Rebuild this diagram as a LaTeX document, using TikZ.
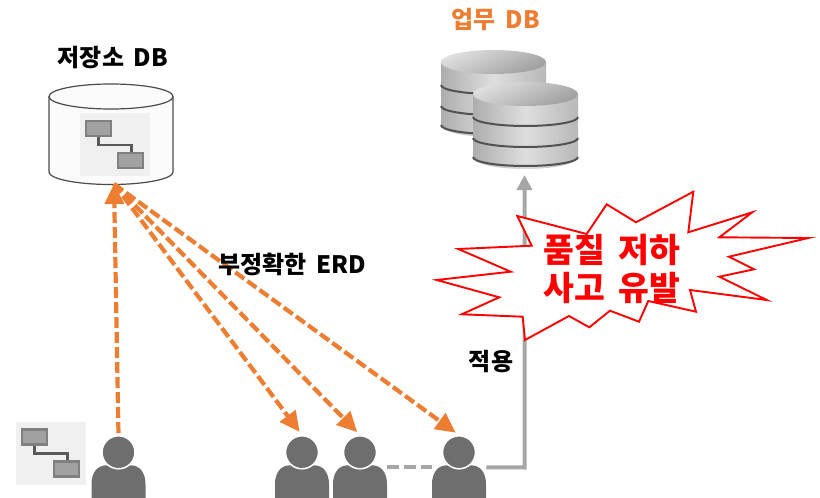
\documentclass[tikz,border=0pt]{standalone}
\usepackage{fontspec}
\setmainfont[WordSpace=1.8]{Noto Sans CJK KR}
\usetikzlibrary{arrows.meta}
\definecolor{dashorange}{HTML}{ED7D31}
\definecolor{usergray}{HTML}{6E6E6E}
\definecolor{linegray}{HTML}{A6A6A6}
\tikzset{
  labeltext/.style={font=\bfseries\fontsize{24}{28}\selectfont, text=black, inner sep=0pt},
  bursttext/.style={font=\bfseries\fontsize{33.5}{38}\selectfont, text=red, align=center, inner sep=0pt},
  userhead/.style={circle, fill=usergray, draw=white, line width=1.5pt, minimum size=33pt, inner sep=0pt},
  erdline/.style={dashorange, line width=4.2pt, dash pattern=on 11pt off 4pt, shorten >=4pt, -{Triangle[length=20pt,width=19pt]}},
  applyline/.style={linegray, line width=4pt},
  pics/erdicon/.style={code={
    \fill[black!6] (-6,-8) rectangle (64,55);
    \draw[black!65, line width=2.6pt] (12.5,8) |- (45.5,24) -- (45.5,40);
    \foreach \bx/\by in {0/0, 32/32}
      \draw[fill=black!37, draw=black!50, line width=2.4pt] (\bx,\by) rectangle ++(25,15);
  }},
  pics/userfigure/.style={code={
    \fill[usergray] (-27,46) -- (-27,32) .. controls (-27,20) and (-21,13) .. (-12,13)
      -- (12,13) .. controls (21,13) and (27,20) .. (27,32) -- (27,46) -- cycle;
  }},
  pics/dbstack/.style={code={
    \shade[left color=black!32, right color=black!28, middle color=black!13] (-52.5,0) -- (-52.5,63)
      arc[start angle=180, end angle=0, x radius=52.5, y radius=12] -- (52.5,0) -- cycle;
    \foreach \dy in {23,44,63}
      \draw[black!68, line width=2pt] (-52.5,\dy) arc[start angle=180, end angle=0, x radius=52.5, y radius=9];
    \shade[left color=black!12, right color=black!38, shading angle=25] (0,0) ellipse[x radius=52.5, y radius=12];
  }}
}
\begin{document}
\begin{tikzpicture}[x=1pt,y=-1pt]
\useasboundingbox (0,0) rectangle (820,498);
\clip (0,0) rectangle (820,498);
% storage cylinder
\draw[fill=black!1.5, draw=black!70, line width=1.2pt] (49,96.5) -- (49,172)
  arc[start angle=180, end angle=0, x radius=62, y radius=12.5] -- (173,96.5);
\draw[fill=black!1.5, draw=black!70, line width=1.2pt] (111,96.5) ellipse[x radius=62, y radius=12.5];
\pic at (86,121) {erdicon};
\pic at (22,429.5) {erdicon};
\coordinate (storbase) at (114,184);
\coordinate (applycorner) at (524.5,467.5);
\coordinate (dbbase) at (524.5,175);
% databases
\pic at (493.5,62) {dbstack};
\pic at (525.5,94) {dbstack};
% users
\foreach \nm/\ux in {usera/118.5, userb/302, userc/360, userd/459}
{
  \pic at (\ux,452.3) {userfigure};
  \node[userhead] (\nm) at (\ux,452.3) {};
}
% arrows
\foreach \nm in {userb,userc,userd}
  \draw[erdline] (storbase) -- (\nm.north);
\draw[erdline, shorten >=0pt, shorten <=2pt] (usera.north) -- (storbase);
\draw[linegray, line width=4pt, dash pattern=on 12pt off 5pt] (userc.east) ++(10,15) -- ++(45,0);
\draw[applyline, -{Triangle[length=15pt,width=15pt]}] (userd.east) ++(10,15) -- (applycorner) -- (dbbase);
% burst
\draw[red, fill=white, line width=1.9pt, line join=miter] (517.3,216) -- (586.7,234) -- (606.7,204.3) -- (636,222.3)
  -- (693.3,191.7) -- (688.3,232.3) -- (752.3,212.3) -- (719.3,237.3) -- (808.3,238)
  -- (729,256.7) -- (754,269.3) -- (719.3,276.7) -- (766.7,300) -- (690,290) -- (696,311.7)
  -- (648.3,301) -- (639,321.7) -- (610,310.7) -- (589.3,327.3) -- (569,316) -- (525,340)
  -- (522.7,316.7) -- (461.7,314.3) -- (499.3,297.3) -- (436.7,280) -- (510.7,271.7)
  -- (458.3,249) -- (531.7,245.7) -- cycle;
% labels
\node[labeltext] (storlabel) at (113,58) {저장소 DB};
\node[labeltext, text=dashorange] (dblabel) at (496,20) {업무 DB};
\node[labeltext] (erdlabel) at (292,264) {부정확한 ERD};
\node[labeltext] (applylabel) at (491,362) {적용};
\node[bursttext] (burstlabel) at (612,269) {품질 저하\\사고 유발};
\end{tikzpicture}
\end{document}
